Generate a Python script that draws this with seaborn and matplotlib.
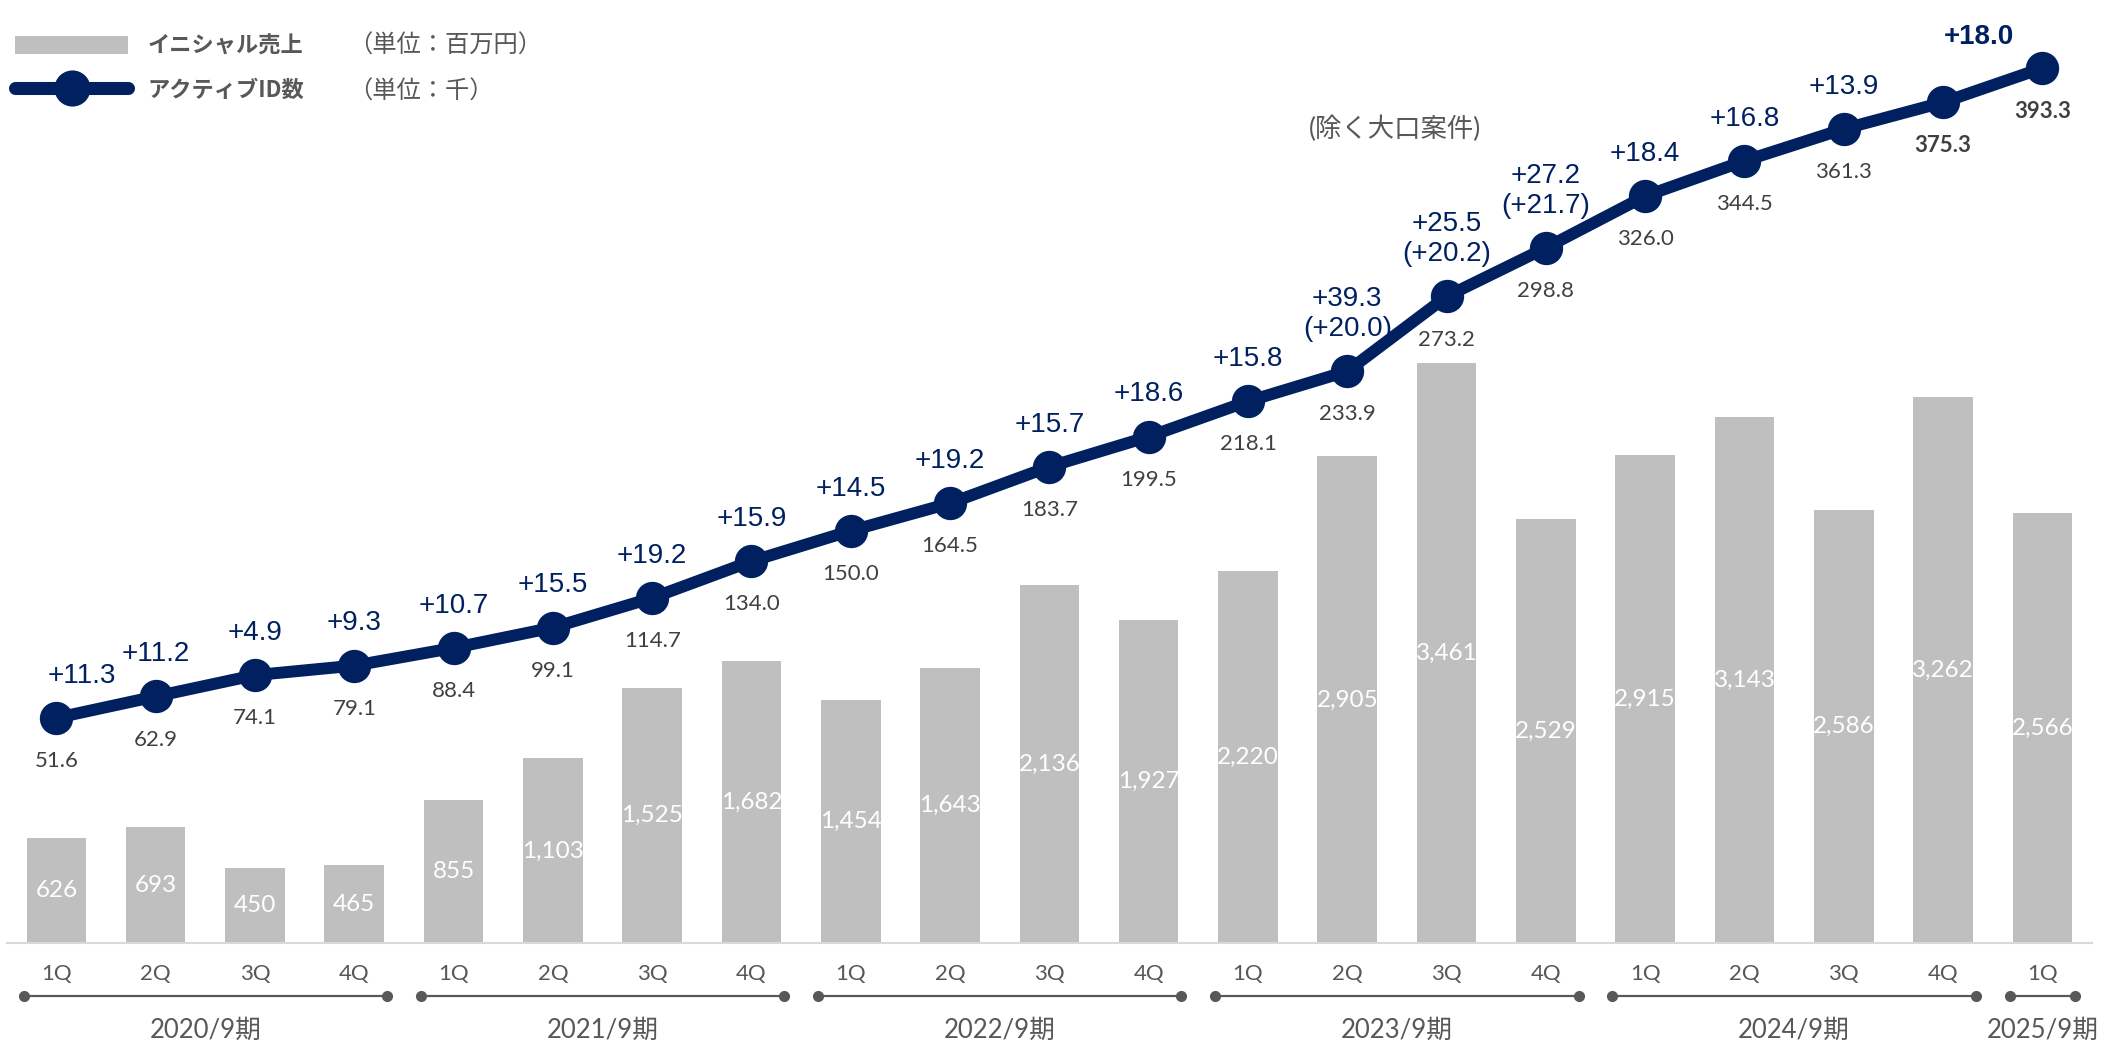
import numpy as np
import pandas as pd
import seaborn as sns
import matplotlib.pyplot as plt
from matplotlib.patches import Patch
from matplotlib.lines import Line2D
from matplotlib.transforms import blended_transform_factory

# データ
quarters = ['1Q', '2Q', '3Q', '4Q'] * 5 + ['1Q']
fiscal_years = ['2020/9期', '2021/9期', '2022/9期', '2023/9期', '2024/9期', '2025/9期']
fy_quarters = [4, 4, 4, 4, 4, 1]
initial_sales = [626, 693, 450, 465, 855, 1103, 1525, 1682, 1454, 1643, 2136,
                 1927, 2220, 2905, 3461, 2529, 2915, 3143, 2586, 3262, 2566]
active_ids = [51.6, 62.9, 74.1, 79.1, 88.4, 99.1, 114.7, 134.0, 150.0, 164.5, 183.7,
              199.5, 218.1, 233.9, 273.2, 298.8, 326.0, 344.5, 361.3, 375.3, 393.3]
# 前四半期からの増加数 (2Q 2020/9期 以降)
id_adds = ['+11.3', '+11.2', '+4.9', '+9.3', '+10.7', '+15.5', '+19.2', '+15.9',
           '+14.5', '+19.2', '+15.7', '+18.6', '+15.8', '+39.3\n(+20.0)',
           '+25.5\n(+20.2)', '+27.2\n(+21.7)', '+18.4', '+16.8', '+13.9', '+18.0']

NAVY = '#002060'
BAR = '#BFBFBF'
GRAY = '#595757'
DARK = '#404040'

sns.set_style('white')
plt.rcParams['font.family'] = ['Lato', 'Noto Sans CJK JP', 'DejaVu Sans']

n = len(initial_sales)
df = pd.DataFrame({'pos': np.arange(n), 'sales': initial_sales, 'ids': active_ids})

W, H = 2105, 1044
fig = plt.figure(figsize=(W / 100, H / 100), dpi=100)
ax = fig.add_axes([6.7 / W, (H - 943.3) / H, (2092 - 6.7) / W, 943.3 / H])

sns.barplot(data=df, x='pos', y='sales', color=BAR, width=0.6, saturation=1,
            linewidth=0, ax=ax)
ax.bar_label(ax.containers[0], labels=[f'{v:,}' for v in initial_sales],
             label_type='center', color='white', fontsize=17.5)
ax.set_ylim(0, 943.3 / 0.1676)
ax.set_xlim(-0.5, n - 0.5)
ax.set_xlabel('')
ax.set_ylabel('')
ax.set_yticks([])
for s in ['top', 'left', 'right']:
    ax.spines[s].set_visible(False)
ax.spines['bottom'].set_color('#D9D9D9')
ax.spines['bottom'].set_linewidth(1.5)
ax.set_xticks(range(n))
ax.set_xticklabels(quarters)
ax.set_xticks(np.arange(-0.5, n, 1), minor=True)
ax.tick_params(axis='x', which='major', length=0, pad=15, labelsize=16, labelcolor=GRAY)
ax.tick_params(axis='x', which='minor', length=5.5, width=1.5, color='#D9D9D9')

# アクティブID数
ax2 = ax.twinx()
sns.lineplot(data=df, x='pos', y='ids', color=NAVY, linewidth=8.6, marker='o',
             markersize=24, markeredgewidth=0, ax=ax2)
ax2.set_ylim(-66.9, 429.1)
ax2.set_yticks([])
ax2.set_ylabel('')
ax2.set_xlabel('')
for s in ax2.spines.values():
    s.set_visible(False)

for i, v in enumerate(active_ids):
    bold = i >= n - 2
    ax2.annotate(f'{v:.1f}', (i, v), xytext=(0, -31), textcoords='offset points',
                 ha='center', va='center', fontsize=16, color=DARK,
                 fontweight='bold' if bold else 'normal')

for i, txt in enumerate(id_adds, start=1):
    x, y = i - 1, active_ids[i - 1]
    dx, dy, w = 0, 21, 'normal'
    if i == 1:
        dx = 18
    if i == len(id_adds):
        dx, dy, w = 26, 38, 'bold'
    ax2.annotate(txt, (x, y), xytext=(dx, dy), textcoords='offset points',
                 ha='center', va='bottom', fontsize=20, color=NAVY, fontweight=w,
                 family=['Liberation Sans', 'DejaVu Sans'], linespacing=1.2)

fig.text(1395 / W, 1 - 129 / H, '(除く大口案件)', ha='center', va='center',
         fontsize=19, color=GRAY)

# 期のブラケット
tr = blended_transform_factory(ax.transData, fig.transFigure)
start = 0
for fy, cnt in zip(fiscal_years, fy_quarters):
    end = start + cnt - 1
    ax.plot([start - 0.33, end + 0.33], [1 - 996 / H] * 2, transform=tr, color=GRAY,
            lw=1.6, marker='o', ms=7, clip_on=False)
    ax.text((start + end) / 2, 1 - 1030 / H, fy, transform=tr, ha='center', va='center',
            fontsize=18.5, color=GRAY)
    start = end + 1

# 凡例
handles = [Patch(facecolor=BAR, edgecolor='none'),
           Line2D([], [], color=NAVY, lw=9.4, marker='o', ms=26, mew=0)]
fig.legend(handles, ['イニシャル売上', 'アクティブID数'], loc='center left',
           bbox_to_anchor=(15 / W, 1 - 68 / H), frameon=False, handlelength=5.1,
           handleheight=0.9, handletextpad=0.85, borderpad=0, borderaxespad=0,
           labelspacing=0.95, labelcolor=GRAY,
           prop={'family': ['Noto Sans CJK JP'], 'weight': 'bold', 'size': 16})
fig.text(348 / W, 1 - 45 / H, '（単位：百万円）', ha='left', va='center', fontsize=17.5, color=GRAY)
fig.text(348 / W, 1 - 91 / H, '（単位：千）', ha='left', va='center', fontsize=17.5, color=GRAY)

fig.savefig('out.png', dpi=100)
